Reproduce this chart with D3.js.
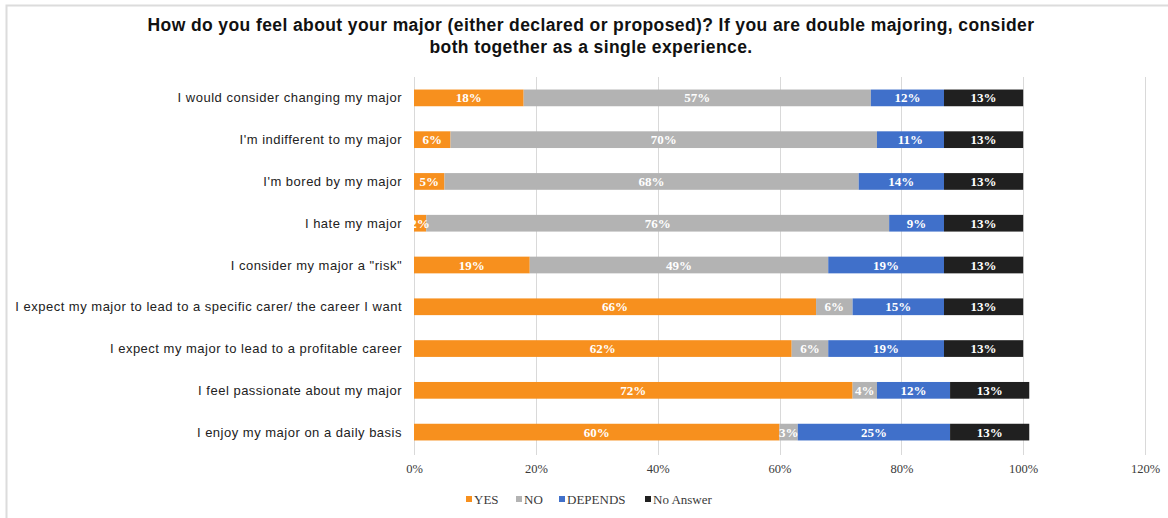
<!DOCTYPE html>
<html><head><meta charset="utf-8">
<script src="https://cdn.jsdelivr.net/npm/d3@7"></script>
<style>
html,body{margin:0;padding:0;background:#fff;}
svg{display:block;}
</style></head>
<body><svg id="c" width="1168" height="518"></svg>
<script>
const categories = [
  "I would consider changing my major",
  "I'm indifferent to my major",
  "I'm bored by my major",
  "I hate my major",
  "I consider my major a \"risk\"",
  "I expect my major to lead to a specific carer/ the career I want",
  "I expect my major to lead to a profitable career",
  "I feel passionate about my major",
  "I enjoy my major on a daily basis"
];
const seriesNames = ["YES", "NO", "DEPENDS", "No Answer"];
const yesVals = [18, 6, 5, 2, 19, 66, 62, 72, 60];
const noVals = [57, 70, 68, 76, 49, 6, 6, 4, 3];
const dependsVals = [12, 11, 14, 9, 19, 15, 19, 12, 25];
const noAnswerVals = [13, 13, 13, 13, 13, 13, 13, 13, 13];
const tickValues = [0, 20, 40, 60, 80, 100, 120];
const titleLines = [
  "How do you feel about your major (either declared or proposed)? If you are double majoring, consider",
  "both together as a single experience."
];
const colors = ["#F7901E", "#B3B3B3", "#4070CA", "#202020"];

const svg = d3.select("#c");

// outer frame (top and left edges visible)
svg.append("path").attr("d", "M6.5,518 V5.5 H1168")
  .attr("fill", "none").attr("stroke", "#dcdcdc").attr("stroke-width", 2);

const plotTop = 77, plotBottom = 453;
const x = d3.scaleLinear().domain([0, 120]).range([414, 1145]);
const y = d3.scaleBand().domain(categories).range([plotTop, plotBottom])
  .paddingInner(0.6).paddingOuter(0.3);

// gridlines
svg.append("g").selectAll("line").data(tickValues).join("line")
  .attr("x1", d => Math.round(x(d)) + 0.5).attr("x2", d => Math.round(x(d)) + 0.5)
  .attr("y1", plotTop).attr("y2", plotBottom + 2)
  .attr("stroke", "#d9d9d9").attr("stroke-width", 1);

// x axis labels
const xAxis = d3.axisBottom(x).tickValues(tickValues).tickSize(0).tickPadding(0)
  .tickFormat(d => d + "%");
const gx = svg.append("g").attr("transform", `translate(0,${plotBottom + 11})`).call(xAxis);
gx.select(".domain").remove();
gx.selectAll("text").attr("font-family", "'Liberation Serif', 'Times New Roman', serif")
  .attr("font-size", 12.5).attr("fill", "#3a3a3a");

// stack
const rows = categories.map((c, i) => ({
  cat: c, YES: yesVals[i], NO: noVals[i], DEPENDS: dependsVals[i], "No Answer": noAnswerVals[i]
}));
const stacked = d3.stack().keys(seriesNames)(rows);

svg.append("defs").append("clipPath").attr("id", "plotclip")
  .append("rect").attr("x", x(0)).attr("y", plotTop).attr("width", x(120) - x(0)).attr("height", plotBottom - plotTop);

const bh = y.bandwidth();
const gBars = svg.append("g");
stacked.forEach((s, si) => {
  gBars.append("g").selectAll("rect").data(s).join("rect")
    .attr("x", d => x(d[0]))
    .attr("y", d => y(d.data.cat))
    .attr("width", d => x(d[1]) - x(d[0]))
    .attr("height", bh)
    .attr("fill", colors[si]);
});
const gLab = svg.append("g").attr("clip-path", "url(#plotclip)");
stacked.forEach((s, si) => {
  gLab.append("g").selectAll("text").data(s).join("text")
    .attr("x", d => (x(d[0]) + x(d[1])) / 2)
    .attr("y", d => y(d.data.cat) + bh / 2)
    .attr("dy", "0.35em")
    .attr("text-anchor", "middle")
    .attr("font-family", "'Liberation Serif', 'Times New Roman', serif")
    .attr("font-weight", "bold")
    .attr("font-size", 13)
    .attr("fill", "#ffffff")
    .text(d => (d[1] - d[0]) + "%");
});

// category labels
svg.append("g").selectAll("text").data(categories).join("text")
  .attr("x", 402).attr("y", d => y(d) + bh / 2).attr("dy", "0.35em")
  .attr("text-anchor", "end")
  .attr("font-family", "'Liberation Sans', Arial, sans-serif")
  .attr("font-size", 13).attr("letter-spacing", 0.5).attr("fill", "#222")
  .text(d => d);

// title
svg.append("g").selectAll("text").data(titleLines).join("text")
  .attr("x", 591).attr("y", (d, i) => 31 + i * 22)
  .attr("text-anchor", "middle")
  .attr("font-family", "'Liberation Sans', Arial, sans-serif")
  .attr("font-weight", "bold").attr("font-size", 17.5).attr("letter-spacing", 0.4).attr("fill", "#111")
  .text(d => d);

// legend
const legX = [466, 516, 559, 645];
const lg = svg.append("g").selectAll("g").data(seriesNames).join("g")
  .attr("transform", (d, i) => `translate(${legX[i]},499)`);
lg.append("rect").attr("x", 0).attr("y", -3).attr("width", 6).attr("height", 6)
  .attr("fill", (d, i) => colors[i]);
lg.append("text").attr("x", 8).attr("y", 0).attr("dy", "0.35em")
  .attr("font-family", "'Liberation Serif', 'Times New Roman', serif")
  .attr("font-size", 13).attr("fill", "#3a3a3a").text(d => d);
</script></body></html>
